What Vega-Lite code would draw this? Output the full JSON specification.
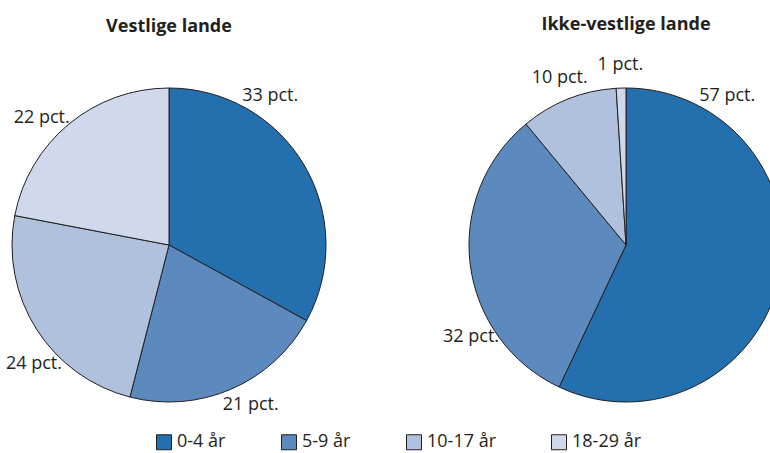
{
  "$schema": "https://vega.github.io/schema/vega-lite/v6.json",
  "padding": {"left": 0, "top": 16, "right": 0, "bottom": 0},
  "background": "white",
  "config": {
    "view": {"stroke": null},
    "font": "Open Sans",
    "title": {"fontSize": 18, "fontWeight": "bold", "color": "#231f20", "offset": 22},
    "concat": {"spacing": 105}
  },
  "datasets": {
    "pie": [
      {"region": "Vestlige lande", "age": "0-4 år", "k": 1, "v": 33},
      {"region": "Vestlige lande", "age": "5-9 år", "k": 2, "v": 21},
      {"region": "Vestlige lande", "age": "10-17 år", "k": 3, "v": 24},
      {"region": "Vestlige lande", "age": "18-29 år", "k": 4, "v": 22},
      {"region": "Ikke-vestlige lande", "age": "0-4 år", "k": 1, "v": 57},
      {"region": "Ikke-vestlige lande", "age": "5-9 år", "k": 2, "v": 32},
      {"region": "Ikke-vestlige lande", "age": "10-17 år", "k": 3, "v": 10},
      {"region": "Ikke-vestlige lande", "age": "18-29 år", "k": 4, "v": 1}
    ]
  },
  "data": {"name": "pie"},
  "hconcat": [
    {
      "width": 338,
      "height": 374,
      "title": "Vestlige lande",
      "transform": [
        {"filter": "datum.region === 'Vestlige lande'"},
        {"window": [{"op": "sum", "field": "v", "as": "cum"}], "sort": [{"field": "k"}], "frame": [null, 0]},
        {"calculate": "datum.cum - datum.v + min(datum.v / 2, 9.5)", "as": "la"},
        {"calculate": "datum.v + ' pct.'", "as": "lab"}
      ],
      "layer": [
        {
          "mark": {"type": "arc", "outerRadius": 157, "stroke": "#231f20", "strokeWidth": 1},
          "encoding": {
            "theta": {"field": "v", "type": "quantitative", "stack": true, "scale": {"domain": [0, 100]}},
            "order": {"field": "k", "type": "quantitative"},
            "color": {
              "field": "age", "type": "nominal",
              "scale": {"domain": ["0-4 år", "5-9 år", "10-17 år", "18-29 år"], "range": ["#2470ae", "#5c8abf", "#b0c1de", "#d0d9eb"]},
              "legend": {
                "orient": "none", "legendX": 155, "legendY": 375, "direction": "horizontal", "columns": 4,
                "title": null, "symbolType": "square", "symbolSize": 225, "symbolStrokeColor": "#231f20",
                "symbolStrokeWidth": 1, "symbolOpacity": 1, "labelFontSize": 18, "labelColor": "#231f20",
                "labelOffset": 4, "columnPadding": 53, "labelFont": "Open Sans"
              }
            }
          }
        },
        {
          "mark": {"type": "text", "radius": 180, "fontSize": 18, "color": "#231f20", "align": "center", "baseline": "middle"},
          "encoding": {
            "theta": {"field": "la", "type": "quantitative", "stack": null, "scale": {"domain": [0, 100]}},
            "text": {"field": "lab"}
          }
        }
      ]
    },
    {
      "width": 338,
      "height": 374,
      "title": "Ikke-vestlige lande",
      "transform": [
        {"filter": "datum.region === 'Ikke-vestlige lande'"},
        {"window": [{"op": "sum", "field": "v", "as": "cum"}], "sort": [{"field": "k"}], "frame": [null, 0]},
        {"calculate": "datum.cum - datum.v + min(datum.v / 2, 9.5)", "as": "la"},
        {"calculate": "datum.v + ' pct.'", "as": "lab"}
      ],
      "layer": [
        {
          "mark": {"type": "arc", "outerRadius": 157, "stroke": "#231f20", "strokeWidth": 1},
          "encoding": {
            "theta": {"field": "v", "type": "quantitative", "stack": true, "scale": {"domain": [0, 100]}},
            "order": {"field": "k", "type": "quantitative"},
            "color": {"field": "age", "type": "nominal"}
          }
        },
        {
          "mark": {"type": "text", "radius": 180, "fontSize": 18, "color": "#231f20", "align": "center", "baseline": "middle"},
          "encoding": {
            "theta": {"field": "la", "type": "quantitative", "stack": null, "scale": {"domain": [0, 100]}},
            "text": {"field": "lab"}
          }
        }
      ]
    }
  ]
}
